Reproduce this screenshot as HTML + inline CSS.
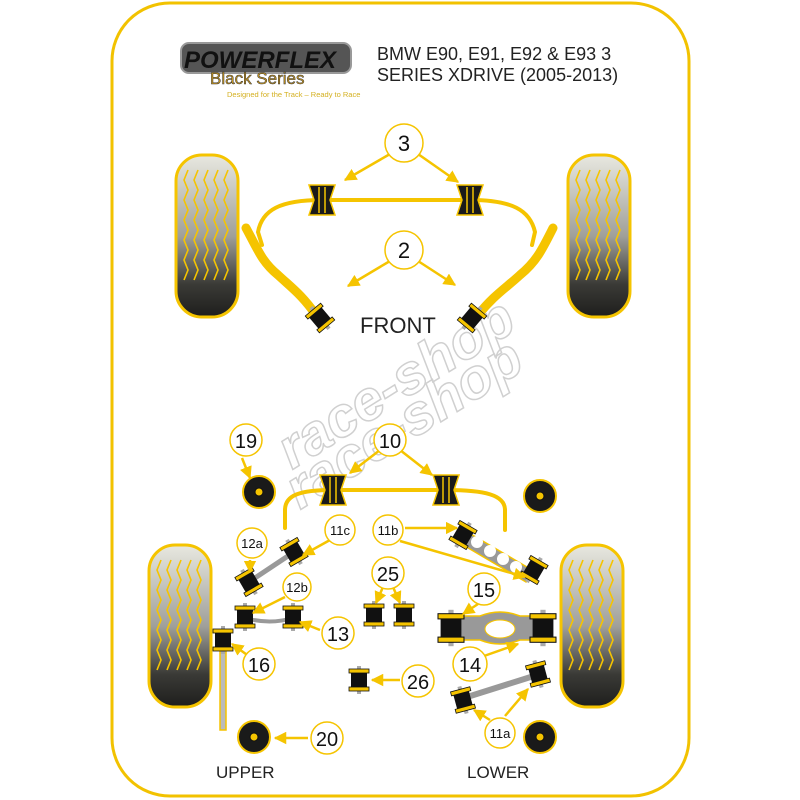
<!DOCTYPE html>
<html><head><meta charset="utf-8"><style>
html,body{margin:0;padding:0;background:#fff;}
svg{display:block;}
text{font-family:"Liberation Sans",sans-serif;}
</style></head><body>
<svg width="800" height="800" viewBox="0 0 800 800" xmlns="http://www.w3.org/2000/svg">
<defs>
<linearGradient id="tg" x1="0" y1="0" x2="0" y2="1">
<stop offset="0" stop-color="#e8e8e0"/><stop offset="0.5" stop-color="#a0a09a"/><stop offset="0.8" stop-color="#3a3a36"/><stop offset="1" stop-color="#1e1e1c"/>
</linearGradient>
<marker id="ah" viewBox="0 0 10 10" refX="9" refY="5" markerWidth="5" markerHeight="5" orient="auto"><path d="M0,0L10,5L0,10z" fill="#f5c400"/></marker>
<g id="tyre">
<rect x="0" y="0" width="62" height="162" rx="26" fill="url(#tg)" stroke="#f5c400" stroke-width="3"/>
<g fill="none" stroke="#f5c400" stroke-width="1.6">
<path d="M12,15 l-4,10 l4,10 l-4,10 l4,10 l-4,10 l4,10 l-4,10 l4,10 l-4,10 l4,10 l-4,10"/>
<path d="M22,15 l-4,10 l4,10 l-4,10 l4,10 l-4,10 l4,10 l-4,10 l4,10 l-4,10 l4,10 l-4,10"/>
<path d="M32,15 l-4,10 l4,10 l-4,10 l4,10 l-4,10 l4,10 l-4,10 l4,10 l-4,10 l4,10 l-4,10"/>
<path d="M42,15 l-4,10 l4,10 l-4,10 l4,10 l-4,10 l4,10 l-4,10 l4,10 l-4,10 l4,10 l-4,10"/>
<path d="M52,15 l-4,10 l4,10 l-4,10 l4,10 l-4,10 l4,10 l-4,10 l4,10 l-4,10 l4,10 l-4,10"/>
</g>
</g>
<g id="hg"><path d="M-13,-15 L13,-15 L8,0 L13,15 L-13,15 L-8,0z" fill="#1a1a1a" stroke="#f5c400" stroke-width="1.5"/><line x1="-3" y1="-13" x2="-3" y2="13" stroke="#f5c400" stroke-width="1.5"/><line x1="3" y1="-13" x2="3" y2="13" stroke="#f5c400" stroke-width="1.5"/></g>
<g id="bu"><rect x="-2" y="-14" width="4" height="28" fill="#aaa"/><rect x="-8" y="-8" width="16" height="16" fill="#111"/><rect x="-10" y="-11" width="20" height="4" fill="#f5c400" stroke="#111" stroke-width="0.8"/><rect x="-10" y="7" width="20" height="4" fill="#f5c400" stroke="#111" stroke-width="0.8"/></g>
<g id="mt"><circle r="16" fill="#1a1a1a" stroke="#f5c400" stroke-width="2"/><circle r="4" fill="#f5c400" stroke="#111"/></g>
</defs>
<rect x="112" y="3" width="577" height="793" rx="58" fill="#fff" stroke="#f2c200" stroke-width="3"/>
<!-- logo -->
<rect x="181" y="43" width="170" height="30" rx="8" fill="#555" stroke="#999" stroke-width="2"/>
<text x="184" y="68" font-size="24" font-weight="bold" font-style="italic" fill="#111">POWERFLEX</text>
<text x="210" y="84" font-size="17" fill="#c8961e" stroke="#333" stroke-width="0.5">Black Series</text>
<text x="227" y="97" font-size="7.5" fill="#d4b020">Designed for the Track – Ready to Race</text>
<text x="377" y="60" font-size="18" fill="#222">BMW E90, E91, E92 &amp; E93 3</text>
<text x="377" y="81" font-size="18" fill="#222">SERIES XDRIVE (2005-2013)</text>
<!-- watermark -->
<text x="292" y="470" font-size="56" font-style="italic" font-weight="bold" fill="none" stroke="#d0d0d0" stroke-width="1.5" transform="rotate(-32 292 470)">race-shop</text>
<text x="300" y="510" font-size="56" font-style="italic" font-weight="bold" fill="none" stroke="#d0d0d0" stroke-width="1.5" transform="rotate(-32 300 510)">race-shop</text>
<!-- tyres -->
<use href="#tyre" x="176" y="155"/><use href="#tyre" x="568" y="155"/>
<use href="#tyre" x="149" y="545"/><use href="#tyre" x="561" y="545"/>
<!-- front bar -->
<g fill="none" stroke="#f5c400" stroke-linecap="round">
<path d="M322,200 L470,200" stroke-width="4"/>
<path d="M322,200 C280,200 262,210 258,232 L262,245" stroke-width="4"/>
<path d="M470,200 C512,200 530,210 535,232 L532,245" stroke-width="4"/>
<path d="M246,228 C258,250 262,262 278,275 C292,288 302,295 316,315" stroke-width="9"/>
<path d="M553,228 C542,250 536,262 520,275 C506,288 494,295 478,315" stroke-width="9"/>
</g>
<use href="#hg" x="322" y="200"/><use href="#hg" x="470" y="200"/>
<g transform="translate(320,318) rotate(-40)"><use href="#bu"/></g>
<g transform="translate(472,318) rotate(40)"><use href="#bu"/></g>
<text x="360" y="333" font-size="22" fill="#222">FRONT</text>
<!-- rear bar -->
<g fill="none" stroke="#f5c400" stroke-width="4" stroke-linecap="round">
<path d="M333,490 L446,490"/>
<path d="M333,490 C300,490 285,495 285,510 L285,528"/>
<path d="M446,490 C485,490 505,495 505,510 L505,530"/>
</g>
<use href="#hg" x="333" y="490"/><use href="#hg" x="446" y="490"/>
<use href="#mt" x="259" y="492"/><use href="#mt" x="540" y="496"/>
<use href="#mt" x="254" y="737"/><use href="#mt" x="540" y="737"/>
<!-- links -->
<line x1="249" y1="582" x2="294" y2="552" stroke="#999" stroke-width="5"/>
<g transform="translate(249,582) rotate(-30)"><use href="#bu"/></g>
<g transform="translate(294,552) rotate(-30)"><use href="#bu"/></g>
<path d="M245,618 Q270,625 293,618" stroke="#999" stroke-width="4" fill="none"/>
<use href="#bu" x="245" y="617"/><use href="#bu" x="293" y="617"/>
<rect x="220" y="640" width="6" height="90" fill="#bbb" stroke="#f5c400" stroke-width="1.5"/>
<use href="#bu" x="223" y="640"/>
<use href="#bu" x="374" y="615"/><use href="#bu" x="404" y="615"/>
<use href="#bu" x="359" y="680"/>
<path d="M464,530 L532,570 L526,582 L458,542z" fill="#999" stroke="#f5c400" stroke-width="1.5"/>
<circle cx="477" cy="542" r="6" fill="#fff"/><circle cx="490" cy="551" r="6" fill="#fff"/><circle cx="503" cy="559" r="6" fill="#fff"/><circle cx="516" cy="567" r="6" fill="#fff"/>
<g transform="translate(463,535) rotate(30)"><use href="#bu"/></g>
<g transform="translate(534,570) rotate(30)"><use href="#bu"/></g>
<path d="M460,616 L480,616 Q500,608 520,616 L540,616 L540,640 L520,640 Q500,648 480,640 L460,640z" fill="#999" stroke="#f5c400" stroke-width="1.5"/>
<ellipse cx="500" cy="629" rx="15" ry="9" fill="#fff" stroke="#f5c400"/>
<g transform="translate(451,628) scale(1.3)"><use href="#bu"/></g>
<g transform="translate(543,628) scale(1.3)"><use href="#bu"/></g>
<line x1="464" y1="698" x2="537" y2="675" stroke="#999" stroke-width="6"/>
<g transform="translate(463,700) rotate(-15)"><use href="#bu"/></g>
<g transform="translate(538,674) rotate(-15)"><use href="#bu"/></g>
<!-- arrows -->
<g stroke="#f5c400" stroke-width="2.5" marker-end="url(#ah)" fill="none">
<line x1="390" y1="154" x2="345" y2="180"/><line x1="418" y1="154" x2="458" y2="182"/>
<line x1="390" y1="261" x2="348" y2="286"/><line x1="418" y1="261" x2="455" y2="285"/>
<line x1="380" y1="450" x2="350" y2="473"/><line x1="400" y1="450" x2="432" y2="475"/>
<line x1="242" y1="458" x2="250" y2="478"/>
<line x1="330" y1="540" x2="303" y2="555"/>
<line x1="250" y1="560" x2="250" y2="572"/>
<line x1="405" y1="528" x2="457" y2="528"/><line x1="400" y1="541" x2="525" y2="577"/>
<line x1="285" y1="597" x2="253" y2="613"/>
<line x1="383" y1="587" x2="376" y2="603"/><line x1="393" y1="587" x2="400" y2="603"/>
<line x1="478" y1="604" x2="463" y2="614"/>
<line x1="320" y1="630" x2="300" y2="622"/>
<line x1="484" y1="656" x2="518" y2="644"/>
<line x1="250" y1="657" x2="232" y2="644"/>
<line x1="400" y1="680" x2="372" y2="680"/>
<line x1="490" y1="720" x2="474" y2="710"/><line x1="505" y1="716" x2="528" y2="689"/>
<line x1="308" y1="738" x2="275" y2="738"/>
</g>
<!-- label circles -->
<g fill="#fff" stroke="#f5c400" stroke-width="1.5">
<circle cx="404" cy="143" r="19"/><circle cx="404" cy="250" r="19"/>
<circle cx="390" cy="440" r="16"/><circle cx="246" cy="440" r="16"/>
<circle cx="340" cy="530" r="15"/><circle cx="252" cy="543" r="15"/><circle cx="388" cy="530" r="15"/>
<circle cx="297" cy="587" r="14"/><circle cx="388" cy="573" r="16"/><circle cx="484" cy="589" r="16"/>
<circle cx="338" cy="633" r="16"/><circle cx="470" cy="664" r="17"/><circle cx="259" cy="664" r="16"/>
<circle cx="418" cy="681" r="16"/><circle cx="500" cy="733" r="15"/><circle cx="327" cy="738" r="16"/>
</g>
<g fill="#111" text-anchor="middle">
<text x="404" y="151" font-size="22">3</text><text x="404" y="258" font-size="22">2</text>
<text x="390" y="448" font-size="20">10</text><text x="246" y="448" font-size="20">19</text>
<text x="340" y="535" font-size="13">11c</text><text x="252" y="548" font-size="13">12a</text><text x="388" y="535" font-size="13">11b</text>
<text x="297" y="592" font-size="13">12b</text><text x="388" y="581" font-size="20">25</text><text x="484" y="597" font-size="20">15</text>
<text x="338" y="641" font-size="20">13</text><text x="470" y="672" font-size="20">14</text><text x="259" y="672" font-size="20">16</text>
<text x="418" y="689" font-size="20">26</text><text x="500" y="738" font-size="13">11a</text><text x="327" y="746" font-size="20">20</text>
</g>
<text x="216" y="778" font-size="17" fill="#222">UPPER</text>
<text x="467" y="778" font-size="17" fill="#222">LOWER</text>
</svg>
</body></html>
